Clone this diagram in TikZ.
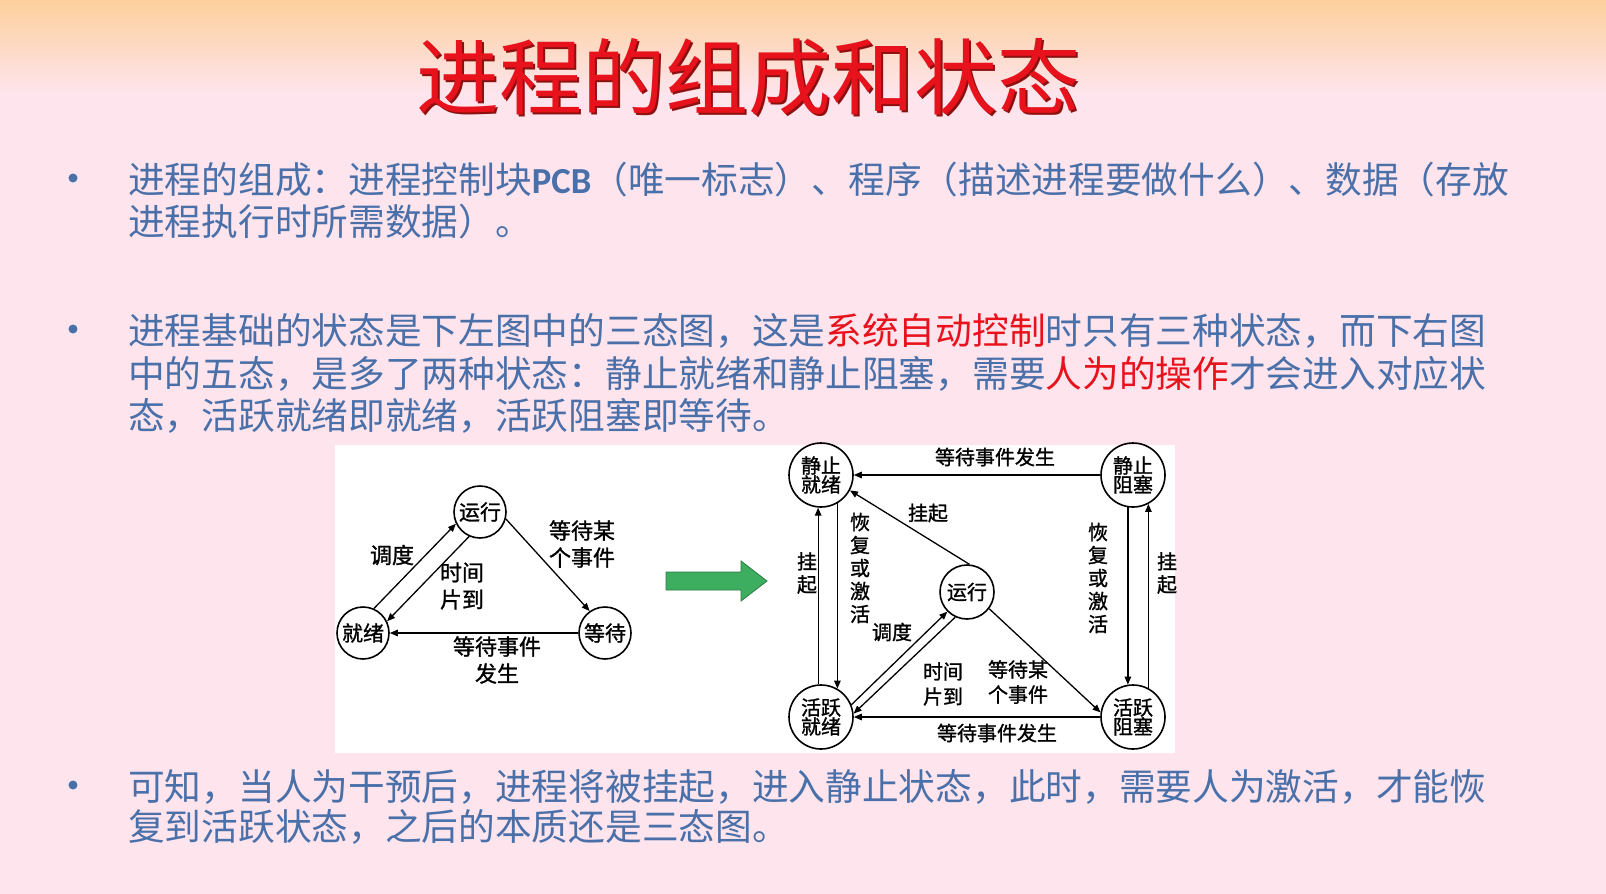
\documentclass[tikz,border=0pt]{standalone}
\usepackage{fontspec}
\usetikzlibrary{arrows.meta,calc}
\newfontfamily\cjk{Noto Sans CJK SC}
\newfontfamily\cjkdiag[FakeBold=1.2]{Noto Sans CJK SC}
\newfontfamily\latinbold{Carlito}

\definecolor{peach}{HTML}{FDD09C}
\definecolor{pinkbg}{HTML}{FEE4EC}
\definecolor{bodyblue}{HTML}{4A70AA}
\definecolor{hotred}{HTML}{E8121C}
\definecolor{shadowred}{HTML}{8C1010}
\definecolor{arrowgreen}{HTML}{3DAE5F}
\definecolor{arrowedge}{HTML}{2B7A44}

\tikzset{
  bodyline/.style={anchor=base west, inner sep=0pt, text=bodyblue,
    font=\cjk\fontsize{36.7}{42}\selectfont},
  bulletdot/.style={fill=bodyblue},
  smallstate/.style={circle, draw, line width=1.6pt, minimum size=52pt,
    inner sep=0pt, font=\cjkdiag\fontsize{21}{21}\selectfont},
  bigstate/.style={circle, draw, line width=1.6pt, minimum size=64pt,
    inner sep=0pt, align=center, font=\cjkdiag\fontsize{20}{19}\selectfont},
  runstate/.style={circle, draw, line width=1.6pt, minimum size=54pt,
    inner sep=0pt, font=\cjkdiag\fontsize{20}{20}\selectfont},
  trans/.style={line width=1.3pt, -{Triangle[length=8pt,width=6.5pt]}},
  lbl/.style={inner sep=0pt, align=center, font=\cjkdiag\fontsize{22}{27}\selectfont},
  rlbl/.style={inner sep=0pt, align=center, font=\cjkdiag\fontsize{20}{25}\selectfont},
  vlbl/.style={inner sep=0pt, align=center, font=\cjkdiag\fontsize{20}{23}\selectfont},
}

\begin{document}
\begin{tikzpicture}[x=1pt,y=-1pt]
\useasboundingbox (0,0) rectangle (1606,894);

% slide background
\shade[top color=peach, bottom color=pinkbg] (0,0) rectangle (1606,92);
\fill[pinkbg] (0,92) rectangle (1606,894);

% title with its drop shadow
\node[inner sep=0pt, text=shadowred, font=\cjk\fontsize{83}{83}\selectfont]
  (titleshadow) at (750.5,79.5) {进程的组成和状态};
\node[inner sep=0pt, text=hotred, font=\cjk\fontsize{83}{83}\selectfont]
  (title) at (748,77) {进程的组成和状态};

% bullets
\fill[bulletdot] (73,178) circle (4.5);
\fill[bulletdot] (73,329) circle (4.5);
\fill[bulletdot] (73,785) circle (4.5);

% first paragraph
\node[bodyline] (p1a) at (128,193) {进程的组成：进程控制块{\latinbold\bfseries PCB}（唯一标志）、程序（描述进程要做什么）、数据（存放};
\node[bodyline] (p1b) at (128,235) {进程执行时所需数据）。};

% second paragraph
\node[bodyline] (p2a) at (128,344) {进程基础的状态是下左图中的三态图，这是\textcolor{hotred}{系统自动控制}时只有三种状态，而下右图};
\node[bodyline] (p2b) at (128,387) {中的五态，是多了两种状态：静止就绪和静止阻塞，需要\textcolor{hotred}{人为的操作}才会进入对应状};
\node[bodyline] (p2c) at (128,429) {态，活跃就绪即就绪，活跃阻塞即等待。};

% third paragraph
\node[bodyline] (p3a) at (128,800) {可知，当人为干预后，进程将被挂起，进入静止状态，此时，需要人为激活，才能恢};
\node[bodyline] (p3b) at (128,840) {复到活跃状态，之后的本质还是三态图。};

% white panel holding both state diagrams
\fill[white] (335,445) rectangle (1175,753);

% ---- three-state diagram ----
\node[smallstate] (run3)  at (480,512) {运行};
\node[smallstate] (ready3) at (363,633) {就绪};
\node[smallstate] (wait3) at (605,633) {等待};

\draw[trans] (ready3.66) -- (run3.206);
\draw[trans] (run3.246) -- (ready3.26);
\draw[trans] (run3.-15) -- (wait3.125);
\draw[trans] (wait3.west) -- (ready3.east);

\node[lbl] (l3a) at (392,555) {调度};
\node[lbl] (l3b) at (462,586) {时间\\片到};
\node[lbl] (l3c) at (582,544) {等待某\\个事件};
\node[lbl] (l3d) at (497,660) {等待事件\\发生};

% arrow between the two diagrams
\filldraw[fill=arrowgreen, draw=arrowedge, line width=0.8pt]
  (666,572) -- (741,572) -- (741,561) -- (767,581) -- (741,601)
  -- (741,590) -- (666,590) -- cycle;

% ---- five-state diagram ----
\node[bigstate] (sready) at (821,475) {静止\\就绪};
\node[bigstate] (sblock) at (1133,475) {静止\\阻塞};
\node[bigstate] (aready) at (821,717) {活跃\\就绪};
\node[bigstate] (ablock) at (1133,717) {活跃\\阻塞};
\node[runstate] (run5) at (967,592) {运行};

\draw[trans] (sblock.west) -- (sready.east);
\draw[trans] (run5.85) -- (sready.-28);
\draw[trans] (aready.95) -- (sready.-95);
\draw[trans] (sready.-60) -- (aready.60);
\draw[trans] (sblock.-99) -- (ablock.99);
\draw[trans] (ablock.62) -- (sblock.-62);
\draw[trans] (run5.-37) -- (ablock.172);
\draw[trans] (aready.22) -- (run5.225);
\draw[trans] (run5.245) -- (aready.6);
\draw[trans] (ablock.west) -- (aready.east);

\node[rlbl] (r1) at (995,457) {等待事件发生};
\node[rlbl] (r2) at (928,513) {挂起};
\node[vlbl] (r3) at (807,573) {挂\\起};
\node[vlbl] (r4) at (860,568) {恢\\复\\或\\激\\活};
\node[vlbl] (r5) at (1098,578) {恢\\复\\或\\激\\活};
\node[vlbl] (r6) at (1167,573) {挂\\起};
\node[rlbl] (r7) at (892,632) {调度};
\node[rlbl] (r8) at (943,684) {时间\\片到};
\node[rlbl] (r9) at (1018,682) {等待某\\个事件};
\node[rlbl] (r10) at (997,733) {等待事件发生};
\end{tikzpicture}
\end{document}
